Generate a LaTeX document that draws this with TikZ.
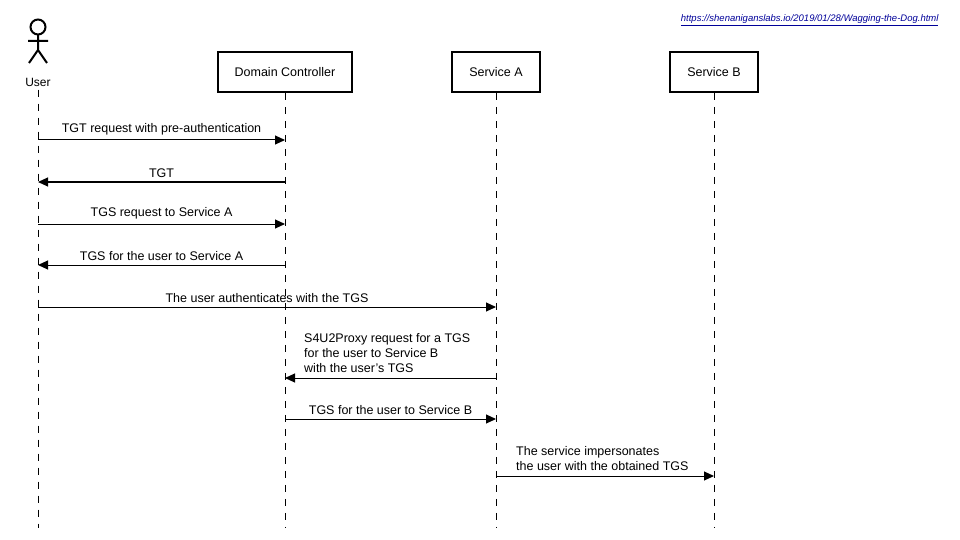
\documentclass[tikz,border=0pt]{standalone}
\usepackage{fontspec}
\setmainfont{Liberation Sans}
\usetikzlibrary{arrows.meta}
\begin{document}
\begin{tikzpicture}[x=1pt,y=-1pt,
  box/.style={draw,line width=1.8pt,minimum width=134pt,minimum height=40pt,font=\fontsize{12.5}{15}\selectfont},
  life/.style={dash pattern=on 7pt off 7pt,line width=1pt},
  msg/.style={line width=1pt,-{Triangle[length=10pt,width=9pt]}},
  lbl/.style={font=\fontsize{12.5}{15}\selectfont,inner sep=1pt}]
\useasboundingbox (0,0) rectangle (960,540);
\node[font=\fontsize{9.5}{11}\selectfont\itshape,text=blue!60!black,anchor=east] (url) at (942,20) {\underline{https://shenaniganslabs.io/2019/01/28/Wagging-the-Dog.html}};
% actor
\draw[line width=2pt] (38,27) circle (7.5);
\draw[line width=2pt] (38,34.5) -- (38,50) (28,41) -- (48,41) (29,63) -- (38,50) -- (47,63);
\node[font=\fontsize{12}{14}\selectfont] (user) at (38,82) {User};
\node[box] (dc) at (285,72) {Domain Controller};
\node[box,minimum width=88pt] (sa) at (496,72) {Service A};
\node[box,minimum width=88pt] (sb) at (714,72) {Service B};
\coordinate (ue) at (38,528); \coordinate (dce) at (285,528);
\coordinate (sae) at (496,528); \coordinate (sbe) at (714,528);
\draw[life] (user.south) -- (ue);
\draw[life] (dc.south) -- (dce);
\draw[life] (sa.south) -- (sae);
\draw[life] (sb.south) -- (sbe);
% messages
\coordinate (u1) at (38,140); \coordinate (d1) at (285,140);
\draw[msg] (u1) -- node[lbl,above=3pt]{TGT request with pre-authentication} (d1);
\coordinate (u2) at (38,182); \coordinate (d2) at (285,182);
\draw[msg] (d2) -- node[lbl,above=3pt]{TGT} (u2);
\coordinate (u3) at (38,224); \coordinate (d3) at (285,224);
\draw[msg] (u3) -- node[lbl,above=3pt]{TGS request to Service A} (d3);
\coordinate (u4) at (38,265); \coordinate (d4) at (285,265);
\draw[msg] (d4) -- node[lbl,above=3pt]{TGS for the user to Service A} (u4);
\coordinate (u5) at (38,307); \coordinate (s5) at (496,307);
\draw[msg] (u5) -- node[lbl,above=3pt]{The user authenticates with the TGS} (s5);
\coordinate (d6) at (285,378); \coordinate (s6) at (496,378);
\draw[msg] (s6) -- (d6);
\node[lbl,align=left,anchor=south west] (l6) at (303,374) {S4U2Proxy request for a TGS\\for the user to Service B\\with the user's TGS};
\coordinate (d7) at (285,419); \coordinate (s7) at (496,419);
\draw[msg] (d7) -- node[lbl,above=3pt]{TGS for the user to Service B} (s7);
\coordinate (s8) at (496,476); \coordinate (b8) at (714,476);
\draw[msg] (s8) -- (b8);
\node[lbl,align=left,anchor=south west] (l8) at (515,472) {The service impersonates\\the user with the obtained TGS};
\end{tikzpicture}
\end{document}
